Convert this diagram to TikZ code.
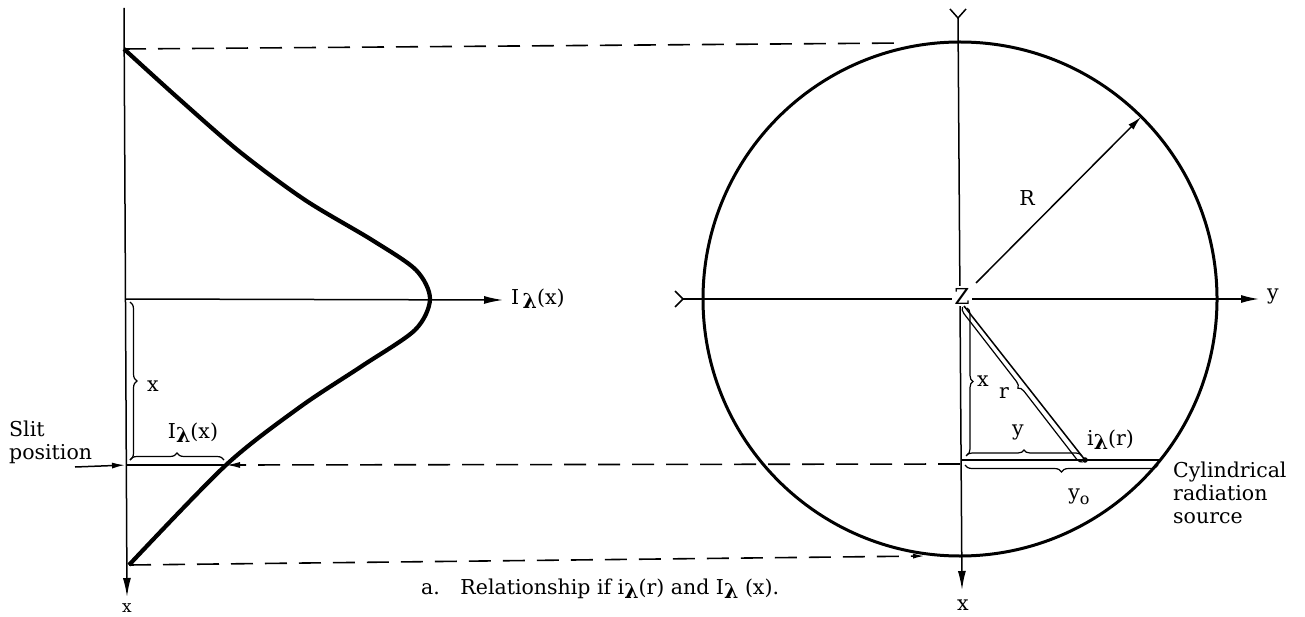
\documentclass[tikz,border=0pt]{standalone}
\usepackage{fontspec}
\setmainfont{DejaVu Serif}
\usetikzlibrary{arrows.meta,decorations.pathreplacing}
\newcommand{\lam}{\raisebox{-0.4ex}{\bfseries λ}}
\begin{document}
\begin{tikzpicture}[x=1pt,y=-1pt,
  axis/.style={line width=1.5pt},
  bigtip/.style={-{Latex[length=19pt,width=8pt]}},
  guide/.style={dash pattern=on 22pt off 12pt, line width=1.6pt},
  curveline/.style={line width=4.2pt, line join=round},
  brc/.style={decorate,decoration={brace,amplitude=7pt,raise=0pt},line width=1.2pt},
  lbl/.style={font=\fontsize{20.5}{23}\selectfont, inner sep=1pt},
]
\useasboundingbox (0,0) rectangle (1305,617);

% ---------- left graph ----------
\coordinate (Ltop) at (124,8);
\coordinate (Lbot) at (127,597);
\coordinate (O) at (125,299);
\coordinate (Htip) at (503,300);
\coordinate (Ctop) at (124,49);
\coordinate (Cbot) at (129,565);
\coordinate (S) at (127,465);
\coordinate (Sx) at (226,465);
\coordinate (Sarr) at (75,467);

\draw[axis,bigtip] (Ltop) -- (Lbot);
\draw[axis,bigtip] (O) -- (Htip);
\node[lbl,anchor=west] (Ilab) at (510,299) {I\,\lam(x)};
\node[lbl,font=\fontsize{17}{18}\selectfont,inner sep=0pt] (xbl) at (127,608) {x};

\draw[curveline] plot[smooth,tension=0.5] coordinates {(Ctop) (178,98) (240,152) (305,200) (372,240) (416,270) (430,299) (415,330) (362,366) (300,407) (Sx) (Cbot)};

% slit
\draw[axis] (S) -- (Sx);
\draw[axis,-{Latex[length=13pt,width=6pt]},shorten >=2pt] (Sarr) -- (S);
\node[lbl,anchor=west,align=left] (slit) at (8,442) {Slit\\[0pt]position};
\draw[brc] (130,302) -- (130,460);
\node[lbl] (xl) at (153,386) {x};
\draw[brc] (130,460) -- (224,460);
\node[lbl] (Il) at (193,433) {I\lam(x)};

% ---------- circle ----------
\coordinate (C) at (960,299);
\coordinate (Ytop) at (958,18);
\coordinate (Ybot) at (962,590);
\coordinate (Hl) at (683,299);
\coordinate (Hr) at (1259,299);
\draw[line width=3pt] (C) circle[radius=257];
\draw[axis,bigtip] (Ytop) -- (Ybot);
\draw[axis] (950,9) -- (Ytop) -- (966,9);
\draw[axis,-{Latex[length=18pt,width=8pt]}] (Hl) -- (Hr);
\draw[axis] (675,291) -- (Hl) -- (675,307);
\node[lbl] (xr) at (963,605) {x};
\node[lbl,anchor=west] (ylab) at (1266,296) {y};
\node[lbl,fill=white,inner sep=2pt,font=\fontsize{22}{24}\selectfont] (Z) at (962,296) {Z};

% radius
\coordinate (R0) at (976,283);
\coordinate (R1) at (1141,117);
\draw[axis,-{Latex[length=14pt,width=7pt]}] (R0) -- (R1);
\node[lbl] (Rl) at (1027,198) {R};

% triangle
\coordinate (Zp) at (964,306);
\coordinate (P) at (1085,460);
\coordinate (B) at (962,460);
\coordinate (E) at (1159,460);
\draw[axis] (Zp) -- (P);
\draw[axis] (B) -- (E);
\fill (P) circle[radius=2.8];
\draw[brc,decoration={amplitude=6pt}] (967,308) -- (967,455);
\node[lbl] (xt) at (983,381) {x};
\draw[brc,decoration={amplitude=6pt}] (1082.6,462) -- (962.6,307);
\node[lbl] (rt) at (1004,393) {r};
\draw[brc,decoration={amplitude=6pt}] (966,456) -- (1082,456);
\node[lbl] (yt) at (1018,432) {y};
\draw[brc,decoration={amplitude=7pt}] (1158,465) -- (965,465);
\node[lbl] (yo) at (1079,497) {y\raisebox{-0.5ex}{\fontsize{16}{17}\selectfont o}};
\node[lbl,anchor=west] (il) at (1086,440) {i\lam(r)};
\node[lbl,anchor=north west,align=left] (src) at (1172,461) {Cylindrical\\[0pt]radiation\\[0pt]source};

% ---------- guides ----------
\coordinate (Gt) at (905,43);
\coordinate (Gb) at (925,556);
\coordinate (Gs) at (960,464);
\draw[guide] (Ctop) -- (Gt);
\draw[guide,-{Latex[length=12pt,width=5pt]}] (Cbot) -- (Gb);
\draw[guide,-{Latex[length=14pt,width=6pt]}] (Gs) -- (Sx);

% caption
\node[lbl,anchor=west] (cap) at (420,589) {a.\quad Relationship if i\lam(r) and I\lam\ (x).};
\end{tikzpicture}
\end{document}
